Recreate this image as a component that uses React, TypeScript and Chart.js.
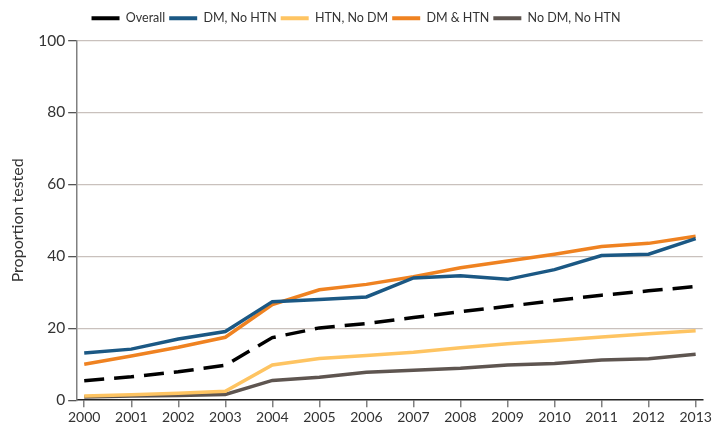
import React, { useEffect, useRef } from "react";
import { Chart, registerables } from "chart.js";

Chart.register(...registerables);

const years = [2000, 2001, 2002, 2003, 2004, 2005, 2006, 2007, 2008, 2009, 2010, 2011, 2012, 2013];
const overall = [5.4, 6.5, 7.9, 9.7, 17.4, 20.1, 21.3, 23.0, 24.6, 26.1, 27.7, 29.2, 30.4, 31.6];
const dmNoHtn = [13.1, 14.2, 17.0, 19.1, 27.4, 28.0, 28.7, 34.0, 34.6, 33.6, 36.3, 40.2, 40.6, 44.9];
const htnNoDm = [1.2, 1.5, 1.9, 2.5, 9.8, 11.6, 12.4, 13.3, 14.6, 15.7, 16.6, 17.6, 18.5, 19.3];
const dmAndHtn = [10.0, 12.3, 14.7, 17.5, 26.6, 30.7, 32.2, 34.3, 36.8, 38.7, 40.6, 42.7, 43.6, 45.6];
const noDmNoHtn = [0.9, 1.2, 1.3, 1.6, 5.5, 6.4, 7.8, 8.3, 8.9, 9.8, 10.2, 11.2, 11.5, 12.8];
const yTicks = [0, 20, 40, 60, 80, 100];

const FONT = "Lato, 'Open Sans', sans-serif";

const legendMargin = {
  id: "legendMargin",
  beforeInit(chart: any) {
    const fit = chart.legend.fit;
    chart.legend.fit = function () {
      fit.bind(chart.legend)();
      this.height += 6;
    };
  },
};

export default function App() {
  const ref = useRef<HTMLCanvasElement | null>(null);
  useEffect(() => {
    if (!ref.current) return;
    const mk = (label: string, data: number[], color: string, dash: number[] = []) => ({
      label,
      data: data.map((v, i) => ({ x: years[i], y: v })),
      borderColor: color,
      backgroundColor: color,
      borderWidth: 3.5,
      borderDash: dash,
      pointRadius: 0,
      tension: 0,
      fill: false,
    });
    const chart = new Chart(ref.current, {
      type: "line",
      data: {
        datasets: [
          mk("Overall", overall, "#000000", [20, 10]),
          mk("DM, No HTN", dmNoHtn, "#1b5884"),
          mk("HTN, No DM", htnNoDm, "#fec462"),
          mk("DM & HTN", dmAndHtn, "#ef8221"),
          mk("No DM, No HTN", noDmNoHtn, "#5e5550"),
        ],
      },
      plugins: [legendMargin],
      options: {
        animation: false,
        responsive: false,
        maintainAspectRatio: false,
        layout: { padding: { left: 8, right: 10, top: 8, bottom: 6 } },
        plugins: {
          tooltip: { enabled: false },
          legend: {
            position: "top",
            align: "center",
            labels: {
              boxWidth: 28,
              boxHeight: 4,
              padding: 4,
              color: "#333",
              font: { family: FONT, size: 12.5 },
              generateLabels: (c: any) => {
                const items = Chart.defaults.plugins.legend.labels.generateLabels(c);
                return items.map((it: any) => ({ ...it, lineWidth: 0, lineDash: [] }));
              },
            },
          },
        },
        scales: {
          x: {
            type: "linear",
            min: 1999.85,
            max: 2013.15,
            afterBuildTicks: (axis: any) => {
              axis.ticks = years.map((y) => ({ value: y }));
            },
            ticks: {
              color: "#333",
              font: { family: FONT, size: 14 },
              padding: 2,
              maxRotation: 0,
              autoSkip: false,
              callback: (v: any) => String(v),
            },
            grid: {
              drawOnChartArea: false,
              drawTicks: true,
              tickLength: 7,
              color: "#808080",
              lineWidth: 1.5,
            },
            border: { color: "#222", width: 1.5 },
          },
          y: {
            min: 0,
            max: 100,
            afterBuildTicks: (axis: any) => {
              axis.ticks = yTicks.map((v) => ({ value: v }));
            },
            title: {
              display: true,
              text: "Proportion tested",
              color: "#333",
              font: { family: FONT, size: 16 },
              padding: { top: 0, bottom: 8 },
            },
            ticks: {
              color: "#333",
              font: { family: FONT, size: 15.5 },
              padding: 3,
            },
            grid: {
              color: (ctx: any) => (ctx.tick && ctx.tick.value === 0 ? "rgba(0,0,0,0)" : "#c9c1bd"),
              lineWidth: 1.3,
              tickColor: "#555",
              tickLength: 9,
            },
            border: { color: "#808080", width: 1.5 },
          },
        },
      },
    } as any);
    return () => chart.destroy();
  }, []);
  return (
    <div style={{ position: "fixed", left: 0, top: 0, width: 714, height: 434, background: "#fff" }}>
      <canvas ref={ref} width={714} height={434} style={{ width: 714, height: 434 }} />
    </div>
  );
}
